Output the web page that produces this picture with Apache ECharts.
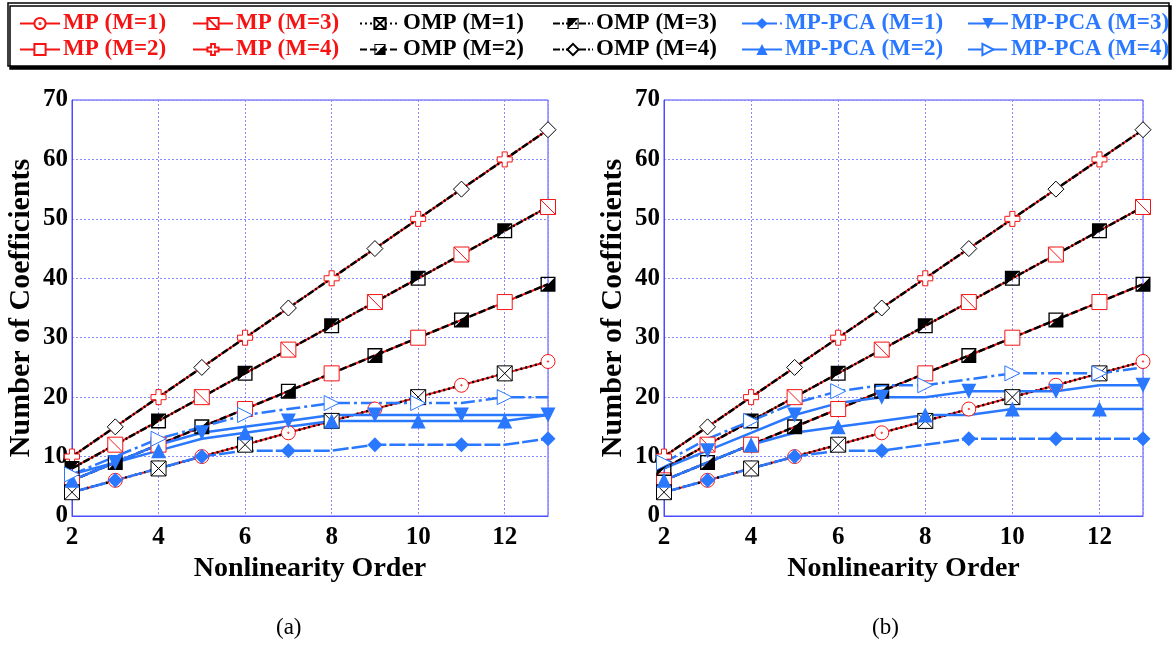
<!DOCTYPE html>
<html>
<head>
<meta charset="utf-8">
<script src="https://cdn.jsdelivr.net/npm/echarts@6/dist/echarts.min.js"></script>
<style>
  html, body { margin: 0; padding: 0; background: #fff; }
  #chart { width: 1176px; height: 648px; }
</style>
</head>
<body>
<div id="chart"></div>
<script>
// nonlinearity orders on the x axis
const orders = [2, 3, 4, 5, 6, 7, 8, 9, 10, 11, 12, 13];
const xTicks = [2, 4, 6, 8, 10, 12];
const yTicks = [0, 10, 20, 30, 40, 50, 60, 70];

// MP and OMP give the same counts in both panels
const mp1 = [4, 6, 8, 10, 12, 14, 16, 18, 20, 22, 24, 26];
const mp2 = [6, 9, 12, 15, 18, 21, 24, 27, 30, 33, 36, 39];
const mp3 = [8, 12, 16, 20, 24, 28, 32, 36, 40, 44, 48, 52];
const mp4 = [10, 15, 20, 25, 30, 35, 40, 45, 50, 55, 60, 65];
const omp1 = [4, 6, 8, 10, 12, 14, 16, 18, 20, 22, 24, 26];
const omp2 = [6, 9, 12, 15, 18, 21, 24, 27, 30, 33, 36, 39];
const omp3 = [8, 12, 16, 20, 24, 28, 32, 36, 40, 44, 48, 52];
const omp4 = [10, 15, 20, 25, 30, 35, 40, 45, 50, 55, 60, 65];

// MP-PCA, panel (a)
const pcaA1 = [4, 6, 8, 10, 11, 11, 11, 12, 12, 12, 12, 13];
const pcaA2 = [6, 9, 11, 13, 14, 15, 16, 16, 16, 16, 16, 17];
const pcaA3 = [7, 9, 12, 14, 15, 16, 17, 17, 17, 17, 17, 17];
const pcaA4 = [7, 10, 13, 15, 17, 18, 19, 19, 19, 19, 20, 20];

// MP-PCA, panel (b)
const pcaB1 = [4, 6, 8, 10, 11, 11, 12, 13, 13, 13, 13, 13];
const pcaB2 = [6, 9, 12, 14, 15, 16, 17, 17, 18, 18, 18, 18];
const pcaB3 = [8, 11, 14, 17, 19, 20, 20, 21, 21, 21, 22, 22];
const pcaB4 = [9, 13, 16, 19, 21, 22, 22, 23, 24, 24, 24, 25];

const RED = '#f51414';
const BLUE = '#2a78ff';
const FONT = 'Liberation Serif';

const SQ = 'M0,0 L10,0 L10,10 L0,10 Z';
const RING = SQ + ' M0.9,0.9 L0.9,9.1 L9.1,9.1 L9.1,0.9 Z';

// marker shape, fill, marker on even (0) or odd (1) points, line style
const styles = {
  'MP (M=1)':     { c: RED, sym: 'path://M10,0 A10,10 0 1 1 10,20 A10,10 0 1 1 10,0 Z M10,9 A1,1 0 1 1 10,11 A1,1 0 1 1 10,9 Z', fill: '#fff', border: RED, odd: 1, type: 'solid', w: 2, size: 14 },
  'MP (M=2)':     { c: RED, sym: 'rect', fill: '#fff', border: RED, odd: 0, type: 'solid', w: 2, size: 15 },
  'MP (M=3)':     { c: RED, sym: 'path://' + SQ + ' M0,0 L10,10', fill: '#fff', border: RED, odd: 1, type: 'solid', w: 2, size: 15 },
  'MP (M=4)':     { c: RED, sym: 'path://M3.3,0 L6.7,0 L6.7,3.3 L10,3.3 L10,6.7 L6.7,6.7 L6.7,10 L3.3,10 L3.3,6.7 L0,6.7 L0,3.3 L3.3,3.3 Z', fill: '#fff', border: RED, odd: 0, type: 'solid', w: 2, size: 15 },
  'OMP (M=1)':    { c: '#000', sym: 'path://' + SQ + ' M0,0 L10,10 M10,0 L0,10', fill: '#fff', border: '#000', odd: 0, type: [2, 3], w: 2.5, size: 15 },
  'OMP (M=2)':    { c: '#000', sym: 'path://' + RING + ' M10,0 L10,10 L0,10 Z', fill: '#000', border: null, odd: 1, type: [7, 3], w: 2.5, size: 15 },
  'OMP (M=3)':    { c: '#000', sym: 'path://' + RING + ' M0,0 L10,0 L0,10 Z', fill: '#000', border: null, odd: 0, type: [7, 2, 2, 2], w: 2.5, size: 15 },
  'OMP (M=4)':    { c: '#000', sym: 'diamond', fill: '#fff', border: '#000', odd: 1, type: [7, 2, 2, 2], w: 2.5, size: 16 },
  'MP-PCA (M=1)': { c: BLUE, sym: 'diamond', fill: BLUE, border: null, odd: 1, type: [16, 3], w: 2.5, size: 15 },
  'MP-PCA (M=2)': { c: BLUE, sym: 'triangle', fill: BLUE, border: null, odd: 0, type: 'solid', w: 2.5, size: 15 },
  'MP-PCA (M=3)': { c: BLUE, sym: 'path://M0,0 L10,0 L5,9 Z', fill: BLUE, border: null, odd: 1, type: 'solid', w: 2.5, size: 15 },
  'MP-PCA (M=4)': { c: BLUE, sym: 'path://M0,0 L9,5 L0,10 Z', fill: '#fff', border: BLUE, odd: 0, type: [14, 4, 3, 4], w: 2.5, size: 15 }
};

const panels = [
  { 'MP (M=1)': mp1, 'MP (M=2)': mp2, 'MP (M=3)': mp3, 'MP (M=4)': mp4,
    'OMP (M=1)': omp1, 'OMP (M=2)': omp2, 'OMP (M=3)': omp3, 'OMP (M=4)': omp4,
    'MP-PCA (M=1)': pcaA1, 'MP-PCA (M=2)': pcaA2, 'MP-PCA (M=3)': pcaA3, 'MP-PCA (M=4)': pcaA4 },
  { 'MP (M=1)': mp1, 'MP (M=2)': mp2, 'MP (M=3)': mp3, 'MP (M=4)': mp4,
    'OMP (M=1)': omp1, 'OMP (M=2)': omp2, 'OMP (M=3)': omp3, 'OMP (M=4)': omp4,
    'MP-PCA (M=1)': pcaB1, 'MP-PCA (M=2)': pcaB2, 'MP-PCA (M=3)': pcaB3, 'MP-PCA (M=4)': pcaB4 }
];

const series = [];
panels.forEach((panel, gi) => {
  Object.keys(panel).forEach(name => {
    const s = styles[name];
    series.push({
      name: name,
      type: 'line',
      xAxisIndex: gi,
      yAxisIndex: gi,
      symbol: s.sym,
      symbolSize: s.size,
      showAllSymbol: true,
      lineStyle: { color: s.c, width: s.w, type: s.type },
      itemStyle: { color: s.fill, borderColor: s.border || s.fill, borderWidth: s.border ? 1 : 0 },
      emphasis: { disabled: true },
      animation: false,
      data: orders.map((x, i) => {
        const item = { value: [x, panel[name][i]] };
        if (i % 2 !== s.odd) item.symbol = 'none';
        return item;
      })
    });
  });
});

const legendCols = [
  { left: 14, names: ['MP (M=1)', 'MP (M=2)'], color: RED },
  { left: 187, names: ['MP (M=3)', 'MP (M=4)'], color: RED },
  { left: 354, names: ['OMP (M=1)', 'OMP (M=2)'], color: '#000' },
  { left: 547, names: ['OMP (M=3)', 'OMP (M=4)'], color: '#000' },
  { left: 736, names: ['MP-PCA (M=1)', 'MP-PCA (M=2)'], color: BLUE },
  { left: 962, names: ['MP-PCA (M=3)', 'MP-PCA (M=4)'], color: BLUE }
];

const grids = [
  { left: 72, right: 628, top: 100, bottom: 132, outerBoundsMode: 'none', show: true, borderColor: '#4b4bff', borderWidth: 1 },
  { left: 664, right: 33, top: 100, bottom: 132, outerBoundsMode: 'none', show: true, borderColor: '#4b4bff', borderWidth: 1 }
];

const tickLabel = { fontFamily: FONT, fontWeight: 'bold', fontSize: 25, color: '#000' };
const gridLine = { show: true, lineStyle: { color: '#8a8aff', type: [2, 2], width: 1 } };

const xAxes = grids.map((g, i) => ({
  type: 'value', gridIndex: i, min: orders[0], max: orders[orders.length - 1], interval: xTicks[1] - xTicks[0],
  name: 'Nonlinearity Order', nameLocation: 'middle', nameGap: 33,
  nameTextStyle: { fontFamily: FONT, fontWeight: 'bold', fontSize: 28, color: '#000' },
  axisLine: { lineStyle: { color: '#4b4bff' } }, axisTick: { show: false },
  axisLabel: Object.assign({ margin: 9, showMaxLabel: false }, tickLabel),
  splitLine: gridLine
}));
const yAxes = grids.map((g, i) => ({
  type: 'value', gridIndex: i, min: yTicks[0], max: yTicks[yTicks.length - 1], interval: yTicks[1] - yTicks[0],
  name: 'Number of Coefficients', nameLocation: 'middle', nameGap: 36,
  nameTextStyle: { fontFamily: FONT, fontWeight: 'bold', fontSize: 30, color: '#000' },
  axisLine: { show: true, lineStyle: { color: '#4b4bff' } }, axisTick: { show: false },
  axisLabel: Object.assign({ margin: 4 }, tickLabel),
  splitLine: gridLine
}));

const chart = echarts.init(document.getElementById('chart'));
chart.setOption({
  animation: false,
  graphic: [
    { type: 'rect', z: 0, shape: { x: 8, y: 3, width: 1161, height: 63 },
      style: { fill: '#fff', stroke: '#000', lineWidth: 1.5, shadowColor: '#000', shadowOffsetX: 2, shadowOffsetY: 3, shadowBlur: 0 } },
    { type: 'text', left: 276, top: 616, style: { text: '(a)', font: '23px "Liberation Serif"', fill: '#000' } },
    { type: 'text', left: 872, top: 616, style: { text: '(b)', font: '23px "Liberation Serif"', fill: '#000' } }
  ],
  legend: legendCols.map(col => ({
    left: col.left, top: 7, orient: 'vertical', itemGap: 3,
    itemWidth: 40, itemHeight: 14, selectedMode: false,
    data: col.names,
    textStyle: { fontFamily: FONT, fontWeight: 'bold', fontSize: 23, color: col.color, padding: [0, 0, 0, -2] }
  })),
  grid: grids,
  xAxis: xAxes,
  yAxis: yAxes,
  series: series
});
</script>
</body>
</html>
